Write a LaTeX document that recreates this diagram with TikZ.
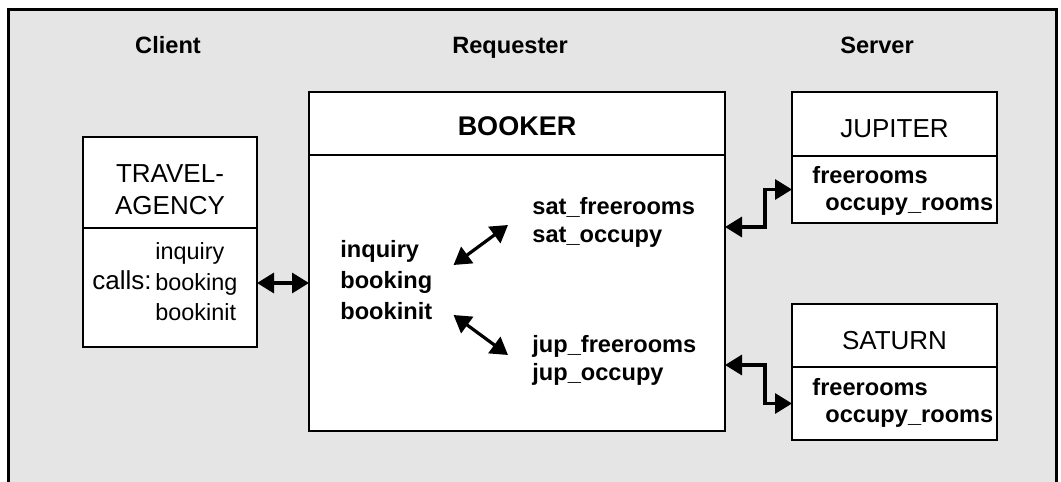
\documentclass[tikz,border=0pt]{standalone}
\usepackage{fontspec}
\setmainfont{Liberation Sans}
\usetikzlibrary{arrows.meta, positioning}
\tikzstyle{frame} = [draw=black, line width=1.5pt, fill=black!10]
\tikzstyle{heading} = [anchor=base, inner sep=0pt, font=\fontsize{11.8}{14}\selectfont\bfseries]
\tikzstyle{title} = [rectangle, draw=black, fill=white, line width=1pt, inner sep=0pt, outer sep=0pt, text height=13pt, text depth=0pt, font=\fontsize{13}{16}\selectfont]
\tikzstyle{body} = [rectangle, draw=black, fill=white, line width=1pt, inner sep=0pt, outer sep=0pt]
\tikzstyle{calls} = [inner sep=0pt, align=left, anchor=west, font=\fontsize{11.7}{15.3}\selectfont]
\tikzstyle{ops} = [inner sep=0pt, align=left, anchor=west, font=\fontsize{11.8}{14}\selectfont\bfseries]
\tikzstyle{arrow} = [line width=1.6pt, {Triangle[length=8.5pt,width=10pt]}-{Triangle[length=8.5pt,width=10pt]}]
\begin{document}
\begin{tikzpicture}[x=0.5pt, y=-0.5pt]
  \useasboundingbox (0,0) rectangle (1061,482);
  \draw [frame] (8.5,9) rectangle (1056,520);

  \node (client) [heading] at (168,54) {Client};
  \node (requester) [heading] at (510,54) {Requester};
  \node (server) [heading] at (877,54) {Server};

  \node (traveltitle) [title, minimum width=87pt, minimum height=45.5pt] at (170,182.5) {};
  \node (travelname) [inner sep=0pt, align=center, yshift=-3.5pt, font=\fontsize{13}{16}\selectfont] at (traveltitle) {TRAVEL-\\AGENCY};
  \node (travelbody) [body, below=0pt of traveltitle, minimum width=87pt, minimum height=59.5pt] {};
  \node (callslbl) [anchor=base west, inner sep=0pt, font=\fontsize{13}{16}\selectfont] at (92,289) {calls:};
  \node (travellist) [calls] at (155,282) {inquiry\\booking\\bookinit};

  \node (bookertitle) [title, minimum width=208pt, minimum height=31.5pt, text height=11.5pt, font=\fontsize{13.5}{16}\selectfont\bfseries] at (517,123.5) {BOOKER};
  \node (bookerbody) [body, below=0pt of bookertitle, minimum width=208pt, minimum height=138pt] {};
  \node (bookerlist) [calls, font=\fontsize{11.8}{15.3}\selectfont\bfseries] at (340,280) {inquiry\\booking\\bookinit};
  \node (satlist) [ops] at (532,222) {sat\_freerooms\\sat\_occupy};
  \node (juplist) [ops] at (532,360) {jup\_freerooms\\jup\_occupy};

  \node (juptitle) [title, minimum width=102.5pt, minimum height=32pt] at (894.5,124) {JUPITER};
  \node (jupbody) [body, below=0pt of juptitle, minimum width=102.5pt, minimum height=33.5pt] {};
  \node (jupops) [ops, font=\fontsize{11.8}{13.5}\selectfont\bfseries] at (812,191) {freerooms\\\hspace*{6.5pt}occupy\_rooms};

  \node (sattitle) [title, minimum width=102.5pt, minimum height=31.5pt, text height=14pt] at (894.5,335.5) {SATURN};
  \node (satbody) [body, below=0pt of sattitle, minimum width=102.5pt, minimum height=36.5pt] {};
  \node (satops) [ops, font=\fontsize{11.8}{13.5}\selectfont\bfseries] at (812,403) {freerooms\\\hspace*{6.5pt}occupy\_rooms};

  \coordinate (travellink) at ([yshift=2.25pt]travelbody.east);
  \coordinate (jupend) at (bookerbody.east |- jupbody.south);
  \coordinate (satend) at (bookerbody.east |- sattitle.south);

  \draw [arrow] (travellink) -- (travellink -| bookerbody.west);
  \draw [arrow] ([shift={(10.5pt,7.5pt)}]bookerlist.east) -- ([shift={(-12pt,-1.5pt)}]satlist.west);
  \draw [arrow] ([shift={(10.5pt,-17.5pt)}]bookerlist.east) -- ([shift={(-12pt,2.5pt)}]juplist.west);
  \draw [arrow] ([yshift=-2pt]jupend) -- ++(20pt,0) |- (jupbody.west);
  \draw [arrow] ([yshift=1pt]satend) -- ++(20pt,0) |- (satbody.west);
\end{tikzpicture}
\end{document}
